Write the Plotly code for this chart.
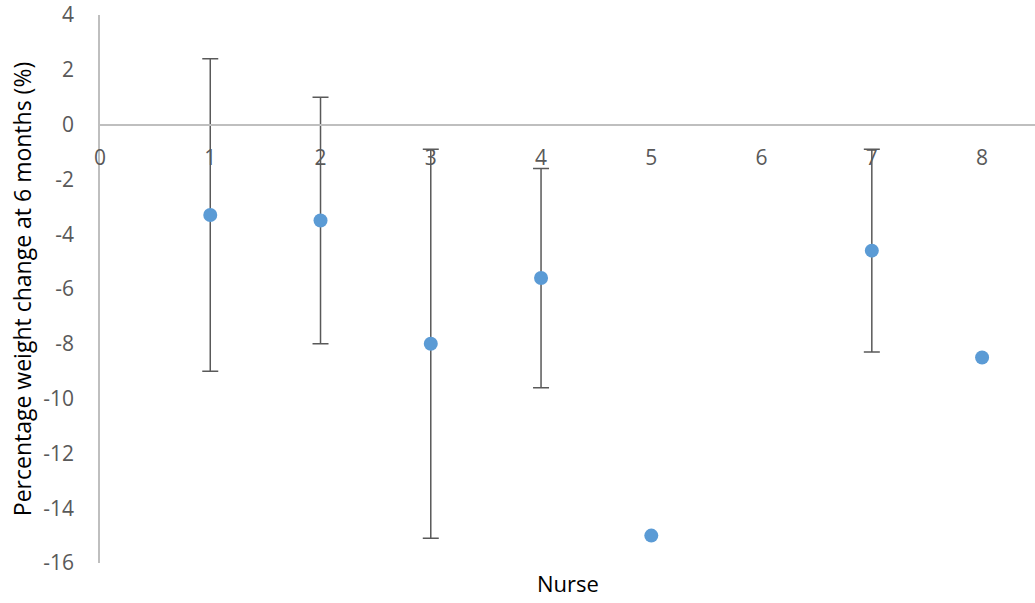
import plotly.graph_objects as go

nurse = [1, 2, 3, 4, 5, 7, 8]
weight_change = [-3.3, -3.5, -8.0, -5.6, -15.0, -4.6, -8.5]
err = [5.7, 4.5, 7.1, 4.0, None, 3.7, None]
x_ticks = [0, 1, 2, 3, 4, 5, 6, 7, 8]
y_ticks = [4, 2, 0, -2, -4, -6, -8, -10, -12, -14, -16]

font = "Open Sans, Liberation Sans, sans-serif"

has_err = [i for i, e in enumerate(err) if e is not None]
no_err = [i for i, e in enumerate(err) if e is None]

fig = go.Figure()
fig.add_trace(go.Scatter(
    x=[nurse[i] for i in has_err], y=[weight_change[i] for i in has_err],
    mode="markers",
    marker=dict(color="#5b9bd5", size=14),
    error_y=dict(type="data", array=[err[i] for i in has_err], visible=True,
                 color="#595959", thickness=1.5, width=8),
    showlegend=False,
))
fig.add_trace(go.Scatter(
    x=[nurse[i] for i in no_err], y=[weight_change[i] for i in no_err],
    mode="markers",
    marker=dict(color="#5b9bd5", size=14),
    showlegend=False,
))

fig.update_layout(
    width=1035, height=603,
    margin=dict(l=100, r=0, t=15, b=40),
    plot_bgcolor="white", paper_bgcolor="white",
    font=dict(family=font, size=21, color="#595959"),
    xaxis=dict(range=[0, 8.48], tickvals=x_ticks, ticktext=[str(v) for v in x_ticks],
               showgrid=False, zeroline=False, showline=True, linecolor="#bfbfbf",
               linewidth=1.5, anchor="free", position=0.8, automargin=False,
               ticks="outside", ticklen=14, tickcolor="rgba(0,0,0,0)",
               tickfont=dict(size=21, color="#595959")),
    yaxis=dict(range=[-16, 4], tickvals=y_ticks, ticktext=[str(v) for v in y_ticks],
               showgrid=False, zeroline=False, showline=True, linecolor="#bfbfbf",
               linewidth=1.5, automargin=False,
               ticks="outside", ticklen=20, tickcolor="rgba(0,0,0,0)",
               title=dict(text="Percentage weight change at 6 months (%)",
                          font=dict(size=23, color="#000000"), standoff=5),
               tickfont=dict(size=21, color="#595959")),
    annotations=[dict(text="Nurse", x=0.5, y=-0.037, xref="paper", yref="paper",
                      xanchor="center", yanchor="middle", showarrow=False,
                      font=dict(size=22, color="#000000"))],
)

fig.write_html("out.html", config={"displayModeBar": False},
               post_script="document.body.style.margin='0';")
